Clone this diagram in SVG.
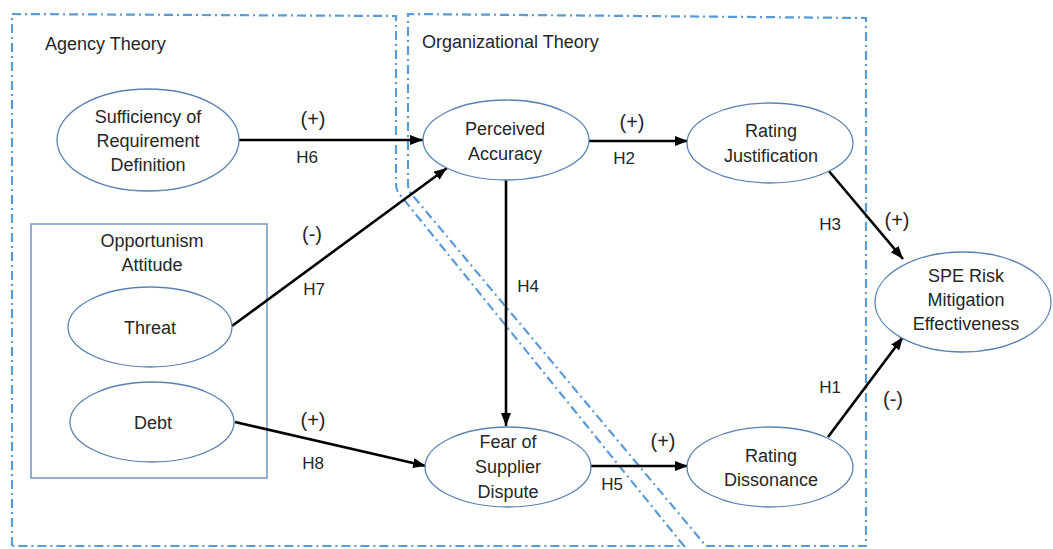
<svg xmlns="http://www.w3.org/2000/svg" width="1053" height="549" viewBox="0 0 1053 549">
<defs>
<marker id="ah" markerUnits="userSpaceOnUse" markerWidth="14" markerHeight="12" refX="13" refY="5" orient="auto">
<path d="M0,0 L13,5 L0,10 Z" fill="#000"/>
</marker>
<style>
.region{fill:none;stroke:#5b9bd5;stroke-width:2.2;stroke-dasharray:9 4 2 4}
.node ellipse{fill:#fff;stroke:#5a82b0;stroke-width:1.3}
.box{fill:none;stroke:#7a9cc4;stroke-width:1.6}
.t{font-family:"Liberation Sans",Arial,sans-serif;font-size:18px;fill:#262626;text-anchor:middle}
.title{font-family:"Liberation Sans",Arial,sans-serif;font-size:18px;fill:#262626}
.h{font-family:"Liberation Sans",Arial,sans-serif;font-size:17px;fill:#262626;text-anchor:middle}
.s{font-family:"Liberation Sans",Arial,sans-serif;font-size:20px;fill:#262626;text-anchor:middle}
.c{stroke:#000;stroke-width:2.6;fill:none;marker-end:url(#ah)}
</style>
</defs>
<rect width="1053" height="549" fill="#fff"/>

<g id="agency-theory">
<path class="region" d="M12,546 L12,14 L396,16 L396,184 Q396,191 401,196 L684,546 Z"/>
<text class="title" x="45" y="50">Agency Theory</text>
</g>
<g id="organizational-theory">
<path class="region" d="M706,546 L866,546 L866,18 L408,14 L408,184 Q408,191 414,197 L706,546"/>
<text class="title" x="422" y="48">Organizational Theory</text>
</g>

<g id="opportunism-attitude">
<rect class="box" x="31" y="224" width="236" height="254"/>
<text class="t" x="152" y="247">Opportunism</text>
<text class="t" x="152" y="271">Attitude</text>
</g>

<g id="connectors">
<line class="c" x1="239" y1="140" x2="423" y2="140"/>
<line class="c" x1="232" y1="326" x2="447" y2="168"/>
<line class="c" x1="235" y1="422" x2="426" y2="466"/>
<line class="c" x1="589" y1="141" x2="688" y2="141"/>
<line class="c" x1="506" y1="180" x2="506" y2="426"/>
<line class="c" x1="591" y1="466" x2="688" y2="466"/>
<line class="c" x1="828" y1="170" x2="903" y2="259"/>
<line class="c" x1="828" y1="437" x2="903" y2="337"/>
<text class="s" x="313" y="126">(+)</text>
<text class="h" x="307" y="163">H6</text>
<text class="s" x="312" y="241">(-)</text>
<text class="h" x="314" y="295">H7</text>
<text class="s" x="313" y="427">(+)</text>
<text class="h" x="313" y="469">H8</text>
<text class="s" x="632" y="129">(+)</text>
<text class="h" x="624" y="164">H2</text>
<text class="h" x="528" y="292">H4</text>
<text class="s" x="663" y="448">(+)</text>
<text class="h" x="612" y="490">H5</text>
<text class="h" x="830" y="230">H3</text>
<text class="s" x="897" y="227">(+)</text>
<text class="h" x="830" y="393">H1</text>
<text class="s" x="893" y="406">(-)</text>
</g>

<g id="sufficiency" class="node">
<ellipse cx="148" cy="140" rx="91" ry="51"/>
<text class="t" x="148" y="123">Sufficiency of</text>
<text class="t" x="148" y="147">Requirement</text>
<text class="t" x="148" y="171">Definition</text>
</g>
<g id="threat" class="node">
<ellipse cx="150" cy="327" rx="82" ry="40"/>
<text class="t" x="150" y="334">Threat</text>
</g>
<g id="debt" class="node">
<ellipse cx="152" cy="422" rx="82" ry="40"/>
<text class="t" x="153" y="429">Debt</text>
</g>
<g id="perceived-accuracy" class="node">
<ellipse cx="506" cy="140" rx="83" ry="40"/>
<text class="t" x="505" y="135">Perceived</text>
<text class="t" x="505" y="160">Accuracy</text>
</g>
<g id="fear-of-supplier-dispute" class="node">
<ellipse cx="508" cy="467" rx="83" ry="40"/>
<text class="t" x="508" y="448">Fear of</text>
<text class="t" x="508" y="473">Supplier</text>
<text class="t" x="508" y="498">Dispute</text>
</g>
<g id="rating-justification" class="node">
<ellipse cx="770" cy="143" rx="83" ry="40"/>
<text class="t" x="771" y="137">Rating</text>
<text class="t" x="771" y="162">Justification</text>
</g>
<g id="rating-dissonance" class="node">
<ellipse cx="770" cy="467" rx="83" ry="40"/>
<text class="t" x="771" y="462">Rating</text>
<text class="t" x="771" y="486">Dissonance</text>
</g>
<g id="spe-risk" class="node">
<ellipse cx="963" cy="302" rx="88" ry="50"/>
<text class="t" x="966" y="282">SPE Risk</text>
<text class="t" x="966" y="306">Mitigation</text>
<text class="t" x="966" y="330">Effectiveness</text>
</g>
</svg>
